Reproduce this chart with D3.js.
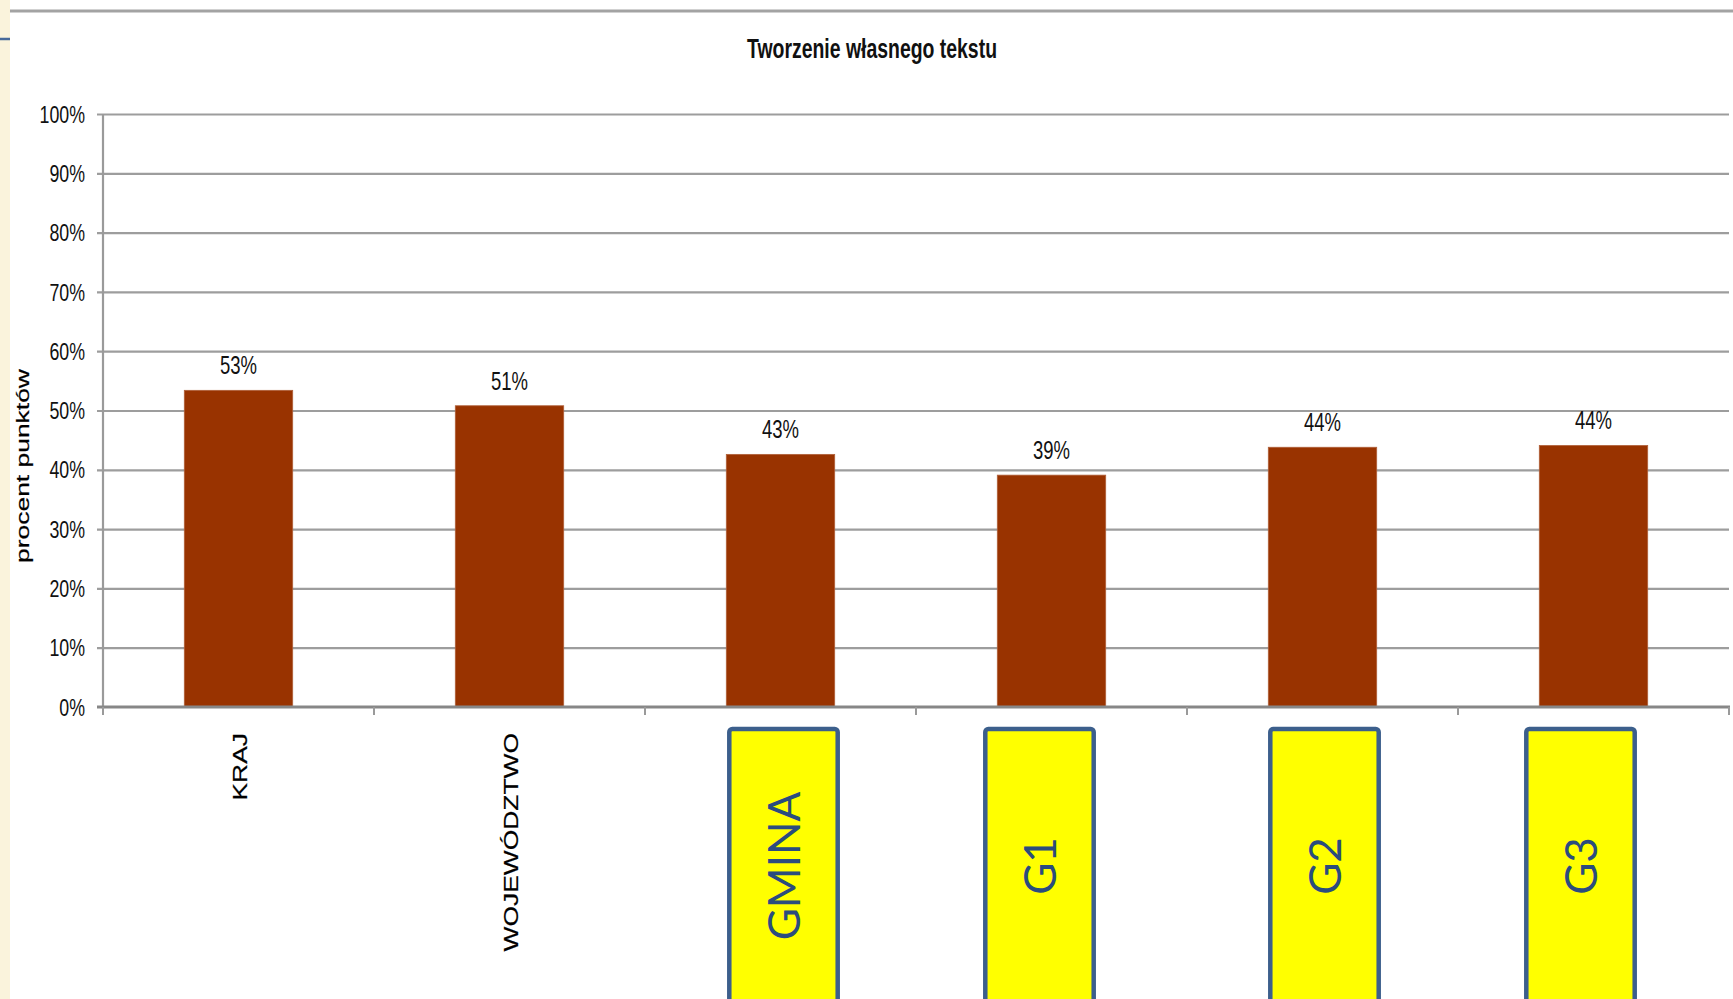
<!DOCTYPE html>
<html>
<head>
<meta charset="utf-8">
<script src="https://cdn.jsdelivr.net/npm/d3@7"></script>
<style>
  html, body { margin: 0; padding: 0; background: #ffffff; }
  svg { display: block; }
</style>
</head>
<body>
<script>
// ---------------- DATA ----------------
const categories = ["KRAJ", "WOJEWÓDZTWO", "GMINA", "G1", "G2", "G3"];
const values = [53.4, 50.8, 42.6, 39.1, 43.8, 44.1];
const valueLabels = ["53%", "51%", "43%", "39%", "44%", "44%"];
const yTickValues = [0, 10, 20, 30, 40, 50, 60, 70, 80, 90, 100];
const yTickLabels = ["0%", "10%", "20%", "30%", "40%", "50%", "60%", "70%", "80%", "90%", "100%"];
const boxedCategories = ["GMINA", "G1", "G2", "G3"];
const chartTitle = "Tworzenie własnego tekstu";
const yAxisTitle = "procent punktów";

// ---------------- LAYOUT ----------------
const W = 1733, H = 999;
const plot = { left: 103, right: 1729, top: 114, bottom: 707 };
const boxOffsets = { "GMINA": 3, "G1": -12, "G2": 2, "G3": -13 };
const hRatio = 0.74;   // horizontal text is condensed in the reference
const vRatio = 1.32;   // rotated text is elongated in the reference
const font = "'Liberation Sans', Arial, sans-serif";

function squeeze(sel, ratio) {
  sel.each(function () {
    const L = this.getComputedTextLength();
    d3.select(this).attr("textLength", L * ratio).attr("lengthAdjust", "spacingAndGlyphs");
  });
}

const svg = d3.select("body").append("svg")
  .attr("width", W).attr("height", H)
  .style("background", "#ffffff");

// side strip + decorations
svg.append("rect").attr("x", 0).attr("y", 0).attr("width", 10).attr("height", H).attr("fill", "#FAF3DC");
svg.append("line").attr("x1", 0).attr("x2", 10).attr("y1", 39).attr("y2", 39)
  .attr("stroke", "#46699A").attr("stroke-width", 2.5);
svg.append("line").attr("x1", 10).attr("x2", W).attr("y1", 11).attr("y2", 11)
  .attr("stroke", "#a3a3a3").attr("stroke-width", 3);

// scales
const x = d3.scaleBand().domain(categories)
  .range([plot.left, plot.right]).paddingInner(0.6).paddingOuter(0.3);
const y = d3.scaleLinear().domain([0, 100]).range([plot.bottom, plot.top]);

// y axis with gridlines
const tickStart = plot.left - 6;
const yAxis = d3.axisLeft(y)
  .tickValues(yTickValues)
  .tickFormat((d, i) => yTickLabels[i])
  .tickSize(-(plot.right - tickStart))
  .tickPadding(12);
const gy = svg.append("g").attr("transform", `translate(${tickStart},0)`).call(yAxis);
gy.select(".domain").remove();
gy.selectAll(".tick line").attr("stroke", "#9d9d9d").attr("stroke-width", 2.2)
  .filter(d => d === 0).remove();
gy.selectAll(".tick text")
  .attr("fill", "#111").style("font-family", font).style("font-size", "24px")
  .attr("dy", "0.34em");
squeeze(gy.selectAll(".tick text"), hRatio);

// y axis line
svg.append("line").attr("x1", plot.left).attr("x2", plot.left)
  .attr("y1", y(100)).attr("y2", y(0) + 2)
  .attr("stroke", "#9a9a9a").attr("stroke-width", 2.2);

// bars
svg.append("g").selectAll("rect").data(categories).join("rect")
  .attr("x", d => x(d))
  .attr("width", x.bandwidth())
  .attr("y", (d, i) => y(values[i]))
  .attr("height", (d, i) => y(0) - y(values[i]))
  .attr("fill", "#993300")
  .attr("stroke", "#b0603a").attr("stroke-width", 0.8);

// zero line (x axis)
svg.append("line").attr("x1", tickStart).attr("x2", plot.right + 1)
  .attr("y1", y(0)).attr("y2", y(0))
  .attr("stroke", "#878787").attr("stroke-width", 3);

// x boundary ticks
const bounds = d3.range(categories.length + 1).map(i => x.range()[0] + i * x.step());
svg.append("g").selectAll("line").data(bounds).join("line")
  .attr("x1", d => d).attr("x2", d => d)
  .attr("y1", y(0)).attr("y2", y(0) + 8)
  .attr("stroke", "#9a9a9a").attr("stroke-width", 2);

// value labels
const vl = svg.append("g").selectAll("text").data(categories).join("text")
  .attr("x", d => x(d) + x.bandwidth() / 2)
  .attr("y", (d, i) => y(values[i]) - 16)
  .attr("text-anchor", "middle")
  .attr("fill", "#111")
  .style("font-family", font).style("font-size", "25px")
  .text((d, i) => valueLabels[i]);
squeeze(vl, hRatio);

// plain category labels (rotated)
const plain = categories.filter(c => !boxedCategories.includes(c));
const cl = svg.append("g").selectAll("text").data(plain).join("text")
  .attr("transform", d => `translate(${x(d) + x.bandwidth() / 2 + 8},733) rotate(-90)`)
  .attr("text-anchor", "end")
  .attr("fill", "#000")
  .attr("stroke", "#000").attr("stroke-width", 0.2)
  .style("font-family", font).style("font-size", "20px")
  .text(d => d);
squeeze(cl, vRatio);

// boxed category labels
const bw = x.bandwidth();
const bx = svg.append("g").selectAll("g").data(boxedCategories).join("g")
  .attr("transform", d => `translate(${x(d) + bw / 2 + boxOffsets[d]},0)`);
bx.append("rect")
  .attr("x", -bw / 2).attr("y", 729)
  .attr("width", bw).attr("height", 300)
  .attr("rx", 3)
  .attr("fill", "#FFFF00")
  .attr("stroke", "#3C5F8C").attr("stroke-width", 4.5);
bx.append("text")
  .attr("transform", "translate(16,866) rotate(-90)")
  .attr("text-anchor", "middle")
  .attr("fill", "#2B4C7E")
  .style("font-family", "Lato, 'Open Sans', sans-serif").style("font-size", "44px")
  .text(d => d);

// chart title
svg.append("text")
  .attr("x", 872).attr("y", 58)
  .attr("text-anchor", "middle")
  .attr("fill", "#111")
  .style("font-family", font).style("font-size", "28px").style("font-weight", "bold")
  .attr("textLength", 250).attr("lengthAdjust", "spacingAndGlyphs")
  .text(chartTitle);

// y axis title
const yt = svg.append("text")
  .attr("transform", "translate(29,466) rotate(-90)")
  .attr("text-anchor", "middle")
  .attr("fill", "#000")
  .attr("stroke", "#000").attr("stroke-width", 0.2)
  .style("font-family", font).style("font-size", "19px")
  .text(yAxisTitle);
squeeze(yt, 1.39);
</script>
</body>
</html>
